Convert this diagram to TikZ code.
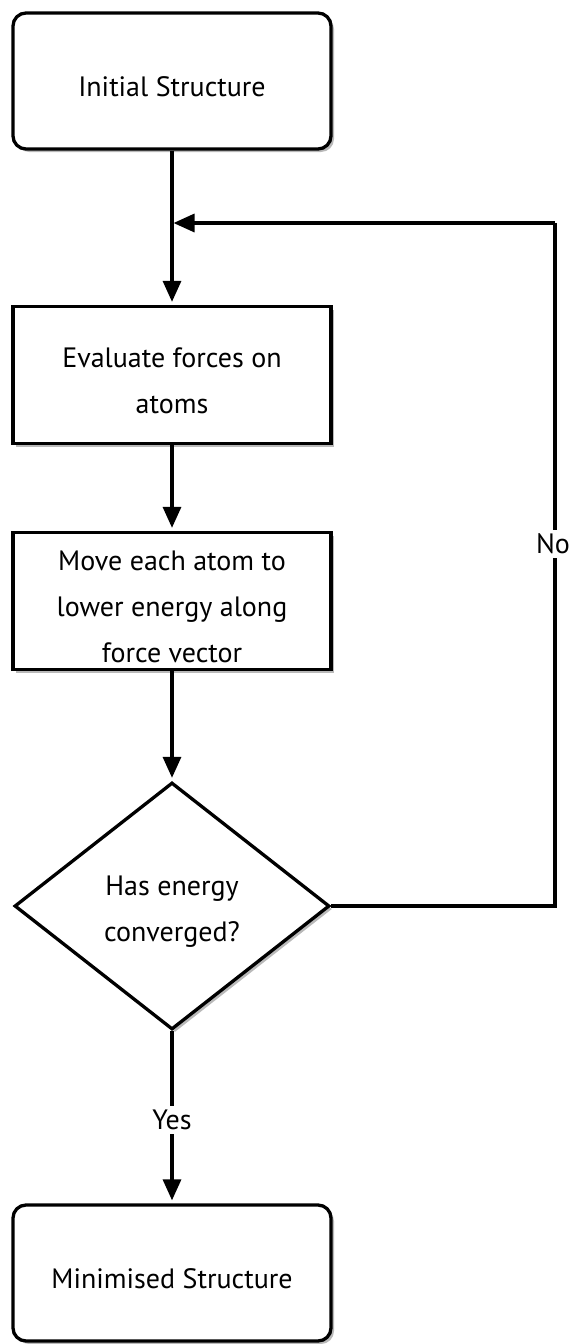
\documentclass[tikz,border=0pt]{standalone}
\usepackage{fontspec}
\setmainfont{PT Sans}
\usetikzlibrary{arrows.meta,shapes.geometric,shadows}
\begin{document}
\begin{tikzpicture}[x=1pt,y=-1pt,
  every node/.style={font=\fontsize{28}{46}\selectfont},
  txt/.style={label={[align=center,yshift=-6pt]center:#1}},
  shd/.style={drop shadow={shadow xshift=3pt,shadow yshift=-3pt,fill=gray!55,opacity=1}},
  rbox/.style={draw,line width=3.3pt,rounded corners=13pt,minimum width=318pt,minimum height=136pt,fill=white,shd},
  sbox/.style={draw,line width=3.3pt,minimum width=318pt,minimum height=137pt,fill=white,shd},
  dec/.style={draw,line width=3.3pt,diamond,aspect=1.28,minimum width=315pt,minimum height=247pt,inner sep=0pt,fill=white,shd},
  conn/.style={line width=3.3pt,-{Triangle[length=21pt,width=18pt]},shorten >=3pt},
  lbl/.style={fill=white,inner sep=4pt}]
\useasboundingbox (0,0) rectangle (576,1344);
\node[rbox,txt={Initial Structure}] (init) at (172,81) {};
\node[sbox,txt={Evaluate forces on\\atoms}] (eval) at (172,375) {};
\node[sbox,txt={Move each atom to\\lower energy along\\force vector}] (move) at (172,601) {};
\node[dec,txt={Has energy\\converged?}] (conv) at (172,906) {};
\node[rbox,txt={Minimised Structure}] (mini) at (172,1273) {};
\coordinate (join) at (172,223);
\coordinate (ne) at (555,223);
\coordinate (se) at (555,906);
\draw[conn] (init) -- (eval);
\draw[conn] (eval) -- (move);
\draw[conn] (move) -- (conv);
\draw[conn] (conv) -- node[lbl,yshift=-3pt] (yes) {Yes} (mini);
\draw[line width=3.3pt] (conv.east) -- (se) -- node[lbl,pos=0.53,xshift=-2pt] (no) {No} (ne);
\draw[conn,shorten >=1.5pt] (ne) -- (join);
\end{tikzpicture}
\end{document}
